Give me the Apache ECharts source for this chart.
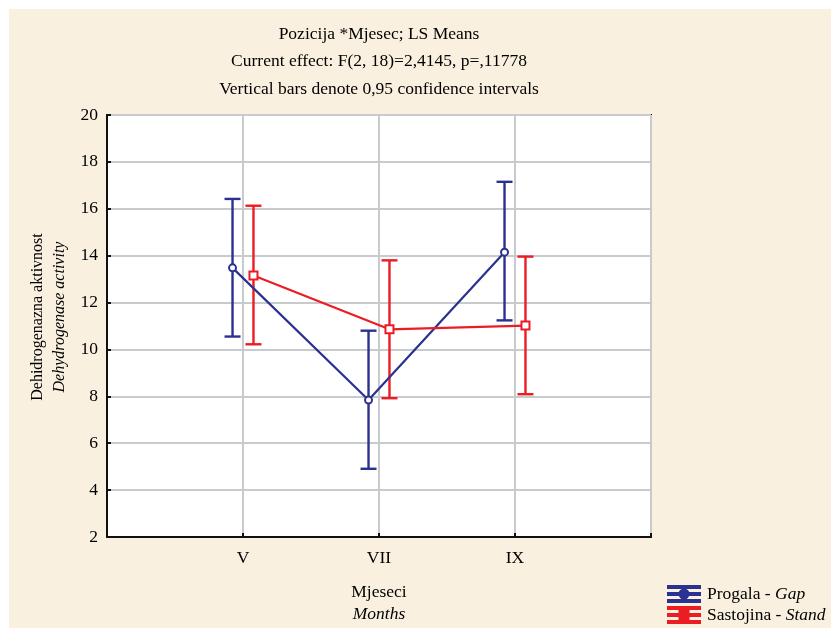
<!DOCTYPE html>
<html>
<head>
<meta charset="utf-8">
<script src="https://cdn.jsdelivr.net/npm/echarts@6/dist/echarts.min.js"></script>
<style>
html,body{margin:0;padding:0;background:#ffffff;}
#chart{width:831px;height:630px;}
</style>
</head>
<body>
<div id="chart"></div>
<script>
// ---- data ----
const months = ['V', 'VII', 'IX'];
const gapMean  = [13.48, 7.84, 14.15];
const gapLow   = [10.55, 4.91, 11.24];
const gapHigh  = [16.42, 10.80, 17.15];
const standMean = [13.15, 10.86, 11.02];
const standLow  = [10.22, 7.92, 8.09];
const standHigh = [16.13, 13.80, 13.96];
const yTicks = [2, 4, 6, 8, 10, 12, 14, 16, 18, 20];
const seriesNames = ['Progala', 'Sastojina'];
const seriesNamesEn = ['Gap', 'Stand'];
const titleLines = [
  'Pozicija *Mjesec; LS Means',
  'Current effect: F(2, 18)=2,4145, p=,11778',
  'Vertical bars denote 0,95 confidence intervals'
];

const BLUE = '#2b3190';
const RED = '#ec1c24';
const FONT = '"Liberation Serif", "DejaVu Serif", serif';
const FS = 17.5;
const OFFSET = 0.077; // horizontal dodge between the two groups (axis units)

function pts(means, dx) { return means.map((v, i) => [i + 1 + dx, v]); }
function bars(low, high, dx) { return low.map((l, i) => [i + 1 + dx, l, high[i]]); }

function errRender(color) {
  return function (params, api) {
    const x = api.value(0);
    const lo = api.coord([x, api.value(1)]);
    const hi = api.coord([x, api.value(2)]);
    const hw = 8;
    const st = { stroke: color, lineWidth: 2.4 };
    return {
      type: 'group',
      children: [
        { type: 'line', shape: { x1: lo[0], y1: lo[1], x2: hi[0], y2: hi[1] }, style: st },
        { type: 'line', shape: { x1: lo[0] - hw, y1: lo[1], x2: lo[0] + hw, y2: lo[1] }, style: st },
        { type: 'line', shape: { x1: hi[0] - hw, y1: hi[1], x2: hi[0] + hw, y2: hi[1] }, style: st }
      ]
    };
  };
}

const iconBase = 'M0 0H32V2H0Z M0 7H32V9H0Z M0 14H32V16H0Z M15 0H17V16H15Z ';
const iconGap = 'path://' + iconBase + 'M11.5 8A4.5 4.5 0 1 0 20.5 8A4.5 4.5 0 1 0 11.5 8Z';
const iconStand = 'path://' + iconBase + 'M11.5 4H20.5V12H11.5Z';

const chart = echarts.init(document.getElementById('chart'));
chart.setOption({
  animation: false,
  backgroundColor: 'transparent',
  textStyle: { fontFamily: FONT },
  graphic: [{
    type: 'rect', z: -100, silent: true,
    shape: { x: 9, y: 9, width: 830, height: 619 },
    style: { fill: '#faf0df' }
  }],
  title: titleLines.map((t, i) => ({
    text: t, left: 379, textAlign: 'center', top: 25 + i * 27.5, padding: 0,
    textStyle: { fontFamily: FONT, fontSize: FS, fontWeight: 'normal', color: '#000' }
  })),
  grid: {
    left: 107, top: 115, right: 180, bottom: 93,
    outerBoundsMode: 'none', containLabel: false,
    show: true, backgroundColor: '#ffffff', borderColor: '#111', borderWidth: 2
  },
  legend: {
    orient: 'vertical', left: 667, top: 585, padding: 0,
    itemWidth: 32, itemHeight: 16, itemGap: 3,
    data: [
      { name: seriesNames[0], icon: iconGap, itemStyle: { color: BLUE } },
      { name: seriesNames[1], icon: iconStand, itemStyle: { color: RED } }
    ],
    formatter: function (name) {
      const i = seriesNames.indexOf(name);
      return name + ' - {i|' + seriesNamesEn[i] + '}';
    },
    textStyle: {
      fontFamily: FONT, fontSize: FS, color: '#000', lineHeight: 16, padding: [0, 0, 0, 2],
      rich: { i: { fontFamily: FONT, fontSize: FS, fontStyle: 'italic', color: '#000', lineHeight: 16 } }
    }
  },
  xAxis: {
    type: 'value', min: 0, max: 4, interval: 1,
    name: '{a|Mjeseci}\n{b|Months}',
    nameLocation: 'middle', nameGap: 44,
    nameTextStyle: {
      lineHeight: 22,
      rich: {
        a: { fontFamily: FONT, fontSize: FS, color: '#000', lineHeight: 22 },
        b: { fontFamily: FONT, fontSize: FS, fontStyle: 'italic', color: '#000', lineHeight: 22 }
      }
    },
    axisLine: { show: true, lineStyle: { color: '#111', width: 2 } },
    axisTick: { show: true, inside: true, length: 4, lineStyle: { color: '#111', width: 2 } },
    axisLabel: {
      fontFamily: FONT, fontSize: FS, color: '#000', margin: 12,
      formatter: function (v) { return months[v - 1] || ''; }
    },
    splitLine: { show: true, lineStyle: { color: '#c8cbce', width: 2 } }
  },
  yAxis: {
    type: 'value', min: yTicks[0], max: yTicks[yTicks.length - 1], interval: 2,
    name: '{a|Dehidrogenazna aktivnost}\n{b|Dehydrogenase activity}',
    nameLocation: 'middle', nameRotate: 90, nameGap: 36, nameMoveOverlap: false,
    nameTextStyle: {
      lineHeight: 22, padding: [0, 0, 0, 18],
      rich: {
        a: { fontFamily: FONT, fontSize: 16, color: '#000', lineHeight: 22 },
        b: { fontFamily: FONT, fontSize: 16, fontStyle: 'italic', color: '#000', lineHeight: 22 }
      }
    },
    axisLine: { show: true, lineStyle: { color: '#111', width: 2 } },
    axisTick: { show: true, inside: true, length: 4, lineStyle: { color: '#111', width: 2 } },
    axisLabel: { fontFamily: FONT, fontSize: FS, color: '#000', margin: 9 },
    splitLine: { show: true, lineStyle: { color: '#c8cbce', width: 2 } }
  },
  series: [
    {
      name: seriesNames[0], type: 'line', data: pts(gapMean, -OFFSET),
      color: BLUE, symbol: 'emptyCircle', symbolSize: 7,
      lineStyle: { color: BLUE, width: 2.2 },
      itemStyle: { color: BLUE, borderColor: BLUE, borderWidth: 3 }, z: 4
    },
    {
      name: seriesNames[0], type: 'custom', data: bars(gapLow, gapHigh, -OFFSET),
      renderItem: errRender(BLUE), z: 3
    },
    {
      name: seriesNames[1], type: 'line', data: pts(standMean, OFFSET),
      color: RED, symbol: 'emptyRect', symbolSize: 8,
      lineStyle: { color: RED, width: 2.2 },
      itemStyle: { color: RED, borderColor: RED, borderWidth: 2.2 }, z: 4
    },
    {
      name: seriesNames[1], type: 'custom', data: bars(standLow, standHigh, OFFSET),
      renderItem: errRender(RED), z: 3
    }
  ]
});
</script>
</body>
</html>
